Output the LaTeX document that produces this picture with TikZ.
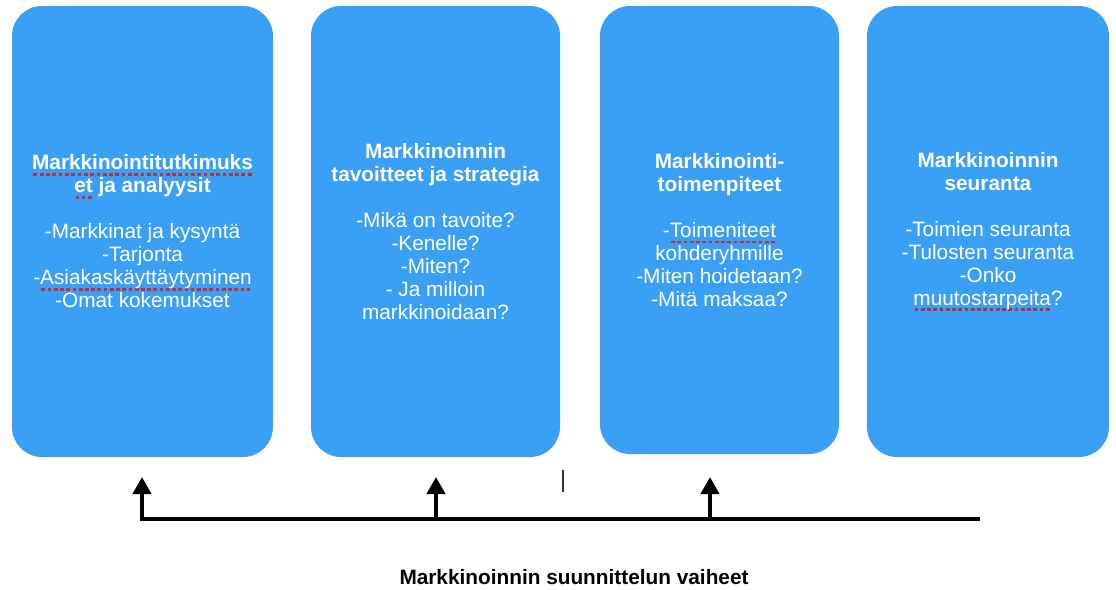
\documentclass[tikz,border=0pt]{standalone}
\usepackage{xcolor}
\usepackage{fontspec}
\usepackage{tikz}
\usetikzlibrary{arrows.meta}
\setmainfont{Liberation Sans}

\definecolor{phaseblue}{RGB}{58,160,246}
\definecolor{spellred}{RGB}{196,44,50}

% red dotted mark under a word
\newsavebox\spellbox
\newcommand{\spellmark}[1]{\sbox\spellbox{#1}\rlap{\color{spellred}\raisebox{-4.4pt}{\hbox to \wd\spellbox{\xleaders\hbox to 4.6pt{\hss\vrule width 2.8pt height 2.1pt depth 0pt\hss}\hfill}}}\usebox\spellbox}

\begin{document}
\begin{tikzpicture}[x=0.75pt,y=-0.75pt]
        \tikzstyle{phase} = [rectangle, rounded corners=22.5pt, fill=phaseblue, text=white,
            align=center, inner sep=0pt, font=\fontsize{15.6pt}{17.25pt}\selectfont]
        \tikzstyle{rise} = [line width=3pt, -{Triangle[length=12.75pt,width=13.5pt]}]
        \useasboundingbox (0,0) rectangle (1116,589);

        \node[phase, minimum width=195.75pt, minimum height=338.25pt] (tutkimus) at (142.5,231.5)
            {\textbf{\spellmark{Markkinointitutkimuks}}\\ \textbf{\spellmark{et} ja analyysit}\\[17.25pt]
             -Markkinat ja kysyntä\\ -Tarjonta\\ -\spellmark{Asiakaskäyttäytyminen}\\ -Omat kokemukset};
        \node[phase, minimum width=186.75pt, minimum height=338.25pt] (tavoitteet) at (435.5,231.5)
            {\textbf{Markkinoinnin}\\ \textbf{tavoitteet ja strategia}\\[17.25pt]
             -Mikä on tavoite?\\ -Kenelle?\\ -Miten?\\ - Ja milloin\\ markkinoidaan?};
        \node[phase, minimum width=179.25pt, minimum height=336pt] (toimenpiteet) at (719.5,230)
            {\textbf{Markkinointi-}\\ \textbf{toimenpiteet}\\[17.25pt]
             -\spellmark{Toimeniteet}\\ kohderyhmille\\ -Miten hoidetaan?\\ -Mitä maksaa?};
        \node[phase, minimum width=181.5pt, minimum height=338.25pt] (seuranta) at (988,231.5)
            {\textbf{Markkinoinnin}\\ \textbf{seuranta}\\[17.25pt]
             -Toimien seuranta\\ -Tulosten seuranta\\ -Onko\\ \spellmark{muutostarpeita}?};

        \coordinate (lineL) at (142,519);
        \coordinate (lineR) at (980,519);
        \coordinate (tip1) at (142,477);
        \coordinate (tip2) at (436,477);
        \coordinate (tip3) at (710,477);

        \draw[rise] (lineR) -- (lineL) -- (tip1);
        \foreach \t in {tip2, tip3}
            \draw[rise] (\t |- lineL) -- (\t);

        \draw[line width=0.9pt, black!80] (563,470) -- (563,492);

        \node[font=\fontsize{15.6pt}{17.25pt}\selectfont\bfseries] (vaiheet) at (574,577)
            {Markkinoinnin suunnittelun vaiheet};
    \end{tikzpicture}
\end{document}
